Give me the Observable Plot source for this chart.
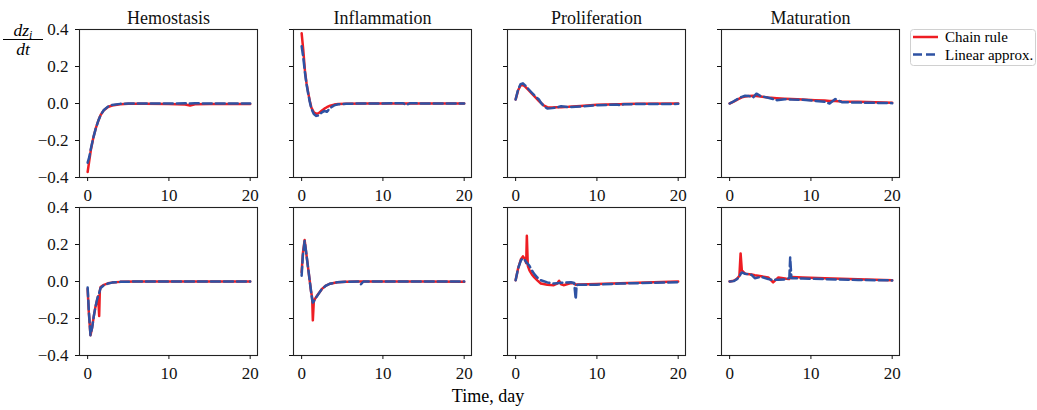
<!DOCTYPE html>
<html><head><meta charset="utf-8">
<script src="https://cdn.jsdelivr.net/npm/d3@7"></script>
<script src="https://cdn.jsdelivr.net/npm/@observablehq/plot@0.6"></script>
<style>
body{margin:0;background:#fff;}
#fig{position:relative;width:1037px;height:410px;font-family:"Liberation Serif",serif;color:#000;overflow:hidden;}
#ylab{position:absolute;left:3px;top:21px;width:40px;text-align:center;font-style:italic;font-size:17.5px;}
#ylab .num{border-bottom:1px solid #000;line-height:18px;}
#ylab .den{line-height:19px;}
#ylab sub{font-size:12px;vertical-align:-3px;line-height:0;}
#xlab{position:absolute;left:388px;width:200px;top:386px;text-align:center;font-size:18px;}
#legend{position:absolute;left:910px;top:29px;}
</style></head><body>
<div id="fig">
  <div id="ylab"><div class="num">dz<sub>i</sub></div><div class="den">dt</div></div>
  <div id="xlab">Time, day</div>
  <svg id="legend" width="127" height="38">
    <rect x="0.5" y="0.5" width="125" height="36" rx="3" fill="#fff" stroke="#d0d0d0"/>
    <line x1="3" x2="28" y1="8" y2="8" stroke="#ee1d23" stroke-width="2.5"/>
    <line x1="3" x2="28" y1="25.5" y2="25.5" stroke="#2e52a3" stroke-width="2.5" stroke-dasharray="9,4"/>
    <text x="35" y="13" font-family="Liberation Serif" font-size="15">Chain rule</text>
    <text x="35" y="30.5" font-family="Liberation Serif" font-size="15">Linear approx.</text>
  </svg>
</div>
<script>
const phases = ["Hemostasis", "Inflammation", "Proliferation", "Maturation"];
const xTicks = [0, 10, 20];
const yTicks = [-0.4, -0.2, 0.0, 0.2, 0.4];
const seriesNames = ["Chain rule", "Linear approx."];

// Row 1 — Hemostasis
const hemoTopT      = [0, 0.2, 0.4, 0.7, 1.0, 1.3, 1.6, 2.0, 2.5, 3.0, 4.0, 5, 7, 10, 12, 12.6, 13.2, 15, 20];
const hemoTopChain  = [-0.37, -0.31, -0.25, -0.185, -0.135, -0.095, -0.062, -0.036, -0.019, -0.011, -0.004, -0.002, -0.002, -0.003, -0.005, -0.011, -0.004, -0.003, -0.003];
const hemoTopLinear = [-0.32, -0.29, -0.245, -0.185, -0.135, -0.095, -0.062, -0.035, -0.017, -0.008, -0.002, 0, 0, 0, 0.001, 0.0, 0.001, 0, 0];
// Row 1 — Inflammation
const inflTopT      = [0, 0.2, 0.4, 0.6, 0.8, 1.0, 1.2, 1.5, 1.8, 2.1, 2.5, 2.8, 3.1, 3.5, 4.0, 4.5, 5.5, 8, 12.5, 12.9, 13.3, 16, 20];
const inflTopChain  = [0.38, 0.29, 0.18, 0.11, 0.06, 0.015, -0.022, -0.048, -0.056, -0.052, -0.038, -0.028, -0.02, -0.012, -0.006, -0.003, -0.001, 0, 0, 0, 0, 0, 0];
const inflTopLinear = [0.31, 0.25, 0.17, 0.105, 0.055, 0.01, -0.028, -0.057, -0.067, -0.064, -0.048, -0.04, -0.045, -0.025, -0.01, -0.004, -0.001, 0, 0.001, -0.008, 0.001, 0, 0];
// Row 1 — Proliferation
const prolTopT      = [0, 0.3, 0.6, 0.9, 1.2, 1.6, 2.0, 2.5, 2.9, 3.1, 3.5, 3.9, 4.5, 5.0, 5.6, 6.5, 8, 10, 12.5, 12.9, 13.3, 15, 20];
const prolTopChain  = [0.022, 0.07, 0.098, 0.1, 0.09, 0.072, 0.053, 0.03, 0.012, 0.004, -0.012, -0.02, -0.022, -0.02, -0.02, -0.018, -0.013, -0.007, -0.004, -0.004, -0.003, -0.002, 0];
const prolTopLinear = [0.022, 0.075, 0.104, 0.109, 0.097, 0.077, 0.058, 0.035, 0.02, 0.005, -0.015, -0.027, -0.025, -0.022, -0.015, -0.02, -0.016, -0.009, -0.006, -0.01, -0.004, -0.003, -0.002];
// Row 1 — Maturation
const matuTopT      = [0, 0.5, 1.0, 1.5, 1.9, 2.4, 2.9, 3.3, 3.8, 4.75, 5.8, 6.8, 7.6, 9, 10.5, 11.7, 12.3, 13.0, 13.8, 15.8, 20];
const matuTopChain  = [0, 0.01, 0.022, 0.033, 0.038, 0.041, 0.042, 0.041, 0.038, 0.033, 0.029, 0.026, 0.024, 0.021, 0.018, 0.016, 0.014, 0.013, 0.011, 0.009, 0.004];
const matuTopLinear = [0, 0.012, 0.025, 0.036, 0.042, 0.04, 0.033, 0.053, 0.04, 0.031, 0.018, 0.023, 0.021, 0.02, 0.014, 0.009, 0.0, 0.024, 0.007, 0.005, 0.002];

// Row 2 — Hemostasis
const hemoBotT      = [0, 0.15, 0.35, 0.55, 0.75, 0.95, 1.15, 1.3, 1.42, 1.5, 1.6, 2.0, 2.5, 3.0, 4.0, 6, 10, 15, 20];
const hemoBotChain  = [-0.04, -0.17, -0.29, -0.25, -0.19, -0.14, -0.105, -0.08, -0.186, -0.05, -0.03, -0.018, -0.01, -0.006, -0.002, 0, 0, 0, 0];
const hemoBotLinear = [-0.032, -0.16, -0.29, -0.25, -0.19, -0.14, -0.10, -0.075, -0.062, -0.05, -0.035, -0.02, -0.011, -0.006, -0.002, 0, 0, 0, 0];
// Row 2 — Inflammation
const inflBotT      = [0, 0.15, 0.37, 0.55, 0.75, 0.95, 1.15, 1.3, 1.38, 1.5, 1.7, 2.0, 2.5, 3.0, 3.5, 4.4, 5.5, 7.0, 7.3, 7.6, 10, 15, 20];
const inflBotChain  = [0.05, 0.15, 0.224, 0.16, 0.09, 0.02, -0.05, -0.09, -0.21, -0.105, -0.09, -0.07, -0.04, -0.022, -0.012, -0.004, -0.001, 0, 0, 0, 0, 0, -0.002];
const inflBotLinear = [0.031, 0.14, 0.22, 0.16, 0.09, 0.02, -0.05, -0.1, -0.114, -0.108, -0.092, -0.072, -0.04, -0.022, -0.012, -0.004, -0.001, 0, -0.015, 0, 0, 0, 0];
// Row 2 — Proliferation
const prolBotT      = [0, 0.3, 0.65, 0.9, 1.15, 1.3, 1.38, 1.5, 1.7, 2.0, 2.3, 2.7, 3.1, 3.9, 4.7, 5.1, 5.35, 5.6, 5.9, 6.8, 7.2, 7.4, 7.5, 7.7, 10, 12.9, 15, 20];
const prolBotChain  = [0.007, 0.07, 0.12, 0.136, 0.12, 0.1, 0.247, 0.085, 0.06, 0.038, 0.022, 0.005, -0.011, -0.018, -0.02, -0.012, 0.004, -0.015, -0.02, -0.008, -0.01, -0.018, -0.016, -0.016, -0.014, -0.01, -0.007, 0];
const prolBotLinear = [0.007, 0.07, 0.115, 0.125, 0.115, 0.105, 0.1, 0.095, 0.085, 0.06, 0.04, 0.02, 0.007, -0.005, -0.011, -0.009, -0.008, -0.007, -0.006, -0.004, -0.008, -0.096, -0.02, -0.018, -0.017, -0.011, -0.009, -0.004];
// Row 2 — Maturation
const matuBotT      = [0, 0.5, 0.9, 1.2, 1.35, 1.5, 1.9, 2.7, 3.1, 3.9, 4.75, 5.35, 6.0, 7.0, 7.35, 7.45, 7.6, 9, 11.7, 15.8, 20];
const matuBotChain  = [0, 0.004, 0.015, 0.03, 0.152, 0.06, 0.042, 0.038, 0.034, 0.028, 0.022, -0.005, 0.022, 0.015, 0.013, 0.025, 0.025, 0.022, 0.017, 0.012, 0.007];
const matuBotLinear = [0, 0.002, 0.012, 0.028, 0.04, 0.049, 0.042, 0.036, 0.018, 0.025, 0.013, 0.008, 0.01, 0.012, 0.02, 0.13, 0.018, 0.016, 0.013, 0.008, 0.006];

const RED = "#ee1d23", BLUE = "#2e52a3";
const FONT = '"Liberation Serif", serif';
const fmt = d3.format(".1f");

const panels = [
  [0, 0, hemoTopT, hemoTopChain, hemoTopLinear],
  [1, 0, inflTopT, inflTopChain, inflTopLinear],
  [2, 0, prolTopT, prolTopChain, prolTopLinear],
  [3, 0, matuTopT, matuTopChain, matuTopLinear],
  [0, 1, hemoBotT, hemoBotChain, hemoBotLinear],
  [1, 1, inflBotT, inflBotChain, inflBotLinear],
  [2, 1, prolBotT, prolBotChain, prolBotLinear],
  [3, 1, matuBotT, matuBotChain, matuBotLinear]
];

const fig = document.getElementById("fig");
const frameLefts = [79, 293, 507, 721];
const frameTops = [29, 207];
const W = 178, H = 148;

for (const [col, row, t, chain, linear] of panels) {
  const mL = col === 0 ? 60 : 10;
  const mT = row === 0 ? 29 : 17;
  const mR = 4, mB = 30;
  const data = t.map((d, i) => ({t: d, c: chain[i], l: linear[i]}));
  const marks = [
    Plot.frame({stroke: "#222", strokeWidth: 1.1}),
    Plot.axisY({ticks: yTicks, tickSize: 4, tickPadding: 7, label: null,
      tickFormat: col === 0 ? fmt : () => ""}),
    Plot.axisX({ticks: xTicks, tickSize: 4, tickPadding: 7, label: null,
      tickFormat: d => String(d)}),
    Plot.lineY(data, {x: "t", y: "c", stroke: RED, strokeWidth: 2.5}),
    Plot.lineY(data, {x: "t", y: "l", stroke: BLUE, strokeWidth: 2.5, strokeDasharray: "9,4"})
  ];
  if (row === 0) {
    marks.push(Plot.text([phases[col]], {text: d => d, frameAnchor: "top", dy: -18, fontSize: 18}));
  }
  const svg = Plot.plot({
    width: mL + W + mR, height: mT + H + mB,
    marginLeft: mL, marginTop: mT, marginRight: mR, marginBottom: mB,
    x: {domain: [-1, 20.9], label: null},
    y: {domain: [-0.4, 0.4], label: null},
    style: {fontFamily: FONT, fontSize: "17px", background: "transparent", color: "#111", overflow: "visible"},
    marks
  });
  svg.style.position = "absolute";
  svg.style.left = (frameLefts[col] - mL) + "px";
  svg.style.top = (frameTops[row] - mT) + "px";
  svg.style.maxWidth = "none";
  fig.appendChild(svg);
}
</script>
</body></html>
